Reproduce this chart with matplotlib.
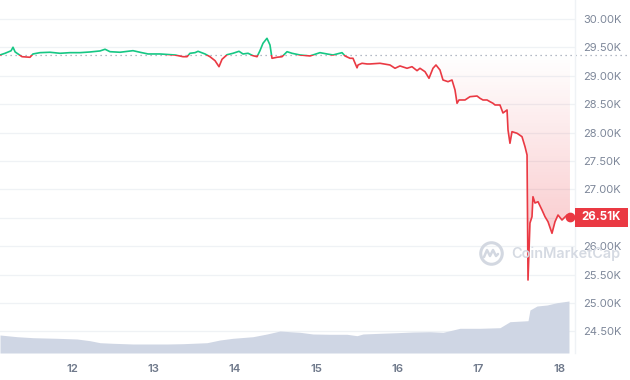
import matplotlib
matplotlib.use("Agg")
import matplotlib.pyplot as plt
import matplotlib.patches as mpatches
import matplotlib.transforms as mtrans
from matplotlib.lines import Line2D
import numpy as np

plt.rcParams['font.family'] = ['Inter', 'DejaVu Sans']

# ---- data (day of month, BTC price in USD) ----
price_day = [11.114, 11.176, 11.250, 11.274, 11.300, 11.336, 11.385, 11.483, 11.520, 11.606,
             11.729, 11.852, 11.975, 12.098, 12.221, 12.344, 12.406, 12.467, 12.590, 12.750,
             12.836, 12.935, 13.082, 13.267, 13.365, 13.415, 13.451, 13.513, 13.550, 13.636,
             13.697, 13.759, 13.808, 13.845, 13.907, 13.980, 14.054, 14.103, 14.165, 14.226,
             14.276, 14.312, 14.349, 14.398, 14.435, 14.460, 14.522, 14.583, 14.645, 14.706,
             14.804, 14.927, 15.050, 15.137, 15.210, 15.321, 15.358, 15.419, 15.456, 15.506,
             15.518, 15.567, 15.629, 15.665, 15.788, 15.911, 15.973, 16.034, 16.121, 16.182,
             16.244, 16.280, 16.342, 16.391, 16.440, 16.477, 16.526, 16.563, 16.625, 16.674,
             16.711, 16.736, 16.760, 16.834, 16.895, 16.982, 17.018, 17.055, 17.105, 17.141,
             17.178, 17.203, 17.264, 17.301, 17.351, 17.363, 17.387, 17.412, 17.474, 17.535,
             17.572, 17.597, 17.609, 17.633, 17.658, 17.670, 17.695, 17.732, 17.781, 17.818,
             17.855, 17.904, 17.941, 17.978, 18.027, 18.089, 18.125]
price_usd = [29366, 29396, 29440, 29502, 29420, 29384, 29336, 29326, 29384, 29407,
             29414, 29396, 29407, 29407, 29419, 29437, 29467, 29424, 29414, 29442,
             29414, 29384, 29384, 29366, 29336, 29336, 29396, 29407, 29431, 29384,
             29336, 29266, 29160, 29290, 29371, 29396, 29431, 29384, 29396, 29354,
             29336, 29442, 29572, 29660, 29542, 29308, 29326, 29336, 29424, 29396,
             29366, 29349, 29407, 29384, 29366, 29407, 29349, 29308, 29308, 29140,
             29190, 29220, 29208, 29208, 29220, 29190, 29132, 29173, 29132, 29160,
             29090, 29132, 29072, 28956, 29132, 29190, 29102, 28926, 28896, 28926,
             28750, 28516, 28574, 28574, 28632, 28644, 28604, 28574, 28574, 28544,
             28516, 28486, 28486, 28345, 28398, 28046, 27812, 28016, 27988, 27928,
             27752, 27606, 25405, 26408, 26519, 26871, 26760, 26783, 26637, 26519,
             26431, 26227, 26431, 26549, 26461, 26549, 26510]

volume_day = [11.114, 11.323, 11.520, 11.815, 12.061, 12.221, 12.344, 12.504, 12.750, 13.169,
              13.365, 13.661, 13.820, 13.980, 14.226, 14.398, 14.558, 14.681, 14.804, 14.964,
              15.173, 15.382, 15.506, 15.579, 15.788, 15.998, 16.194, 16.403, 16.563, 16.649,
              16.772, 17.018, 17.264, 17.387, 17.609, 17.633, 17.720, 17.843, 17.966, 18.113]
volume_bn = [9.0, 8.15, 7.65, 7.35, 7.0, 6.15, 5.15, 4.85, 4.5, 4.5,
             4.65, 5.15, 6.5, 7.35, 8.15, 9.5, 11.0, 10.65, 10.35, 9.5,
             9.35, 9.35, 8.65, 9.5, 9.85, 10.15, 10.5, 10.65, 10.35, 11.15,
             12.35, 12.35, 12.65, 15.65, 16.15, 21.5, 23.5, 24.0, 25.15, 26.0]

reference_price = 29366
y_ticks = [24500, 25000, 25500, 26000, 26500, 27000, 27500, 28000, 28500, 29000, 29500, 30000]
y_tick_labels = ['24.50K', '25.00K', '25.50K', '26.00K', '', '27.00K', '27.50K', '28.00K',
                 '28.50K', '29.00K', '29.50K', '30.00K']
x_ticks = [12, 13, 14, 15, 16, 17, 18]
x_tick_labels = ['12', '13', '14', '15', '16', '17', '18']
current_label = '26.51K'

GREEN = '#16c784'
RED = '#ea3943'
GRID = '#eff2f5'
LABEL = '#7d8799'

W, H = 630, 380
fig = plt.figure(figsize=(W / 100, H / 100), dpi=100)
fig.patch.set_facecolor('white')

ax_rect = [0, 27 / H, 575 / W, 353 / H]
axv = fig.add_axes(ax_rect)
ax = fig.add_axes(ax_rect, sharex=axv)
ax.patch.set_visible(False)

t = np.array(price_day)
p = np.array(price_usd)

xmin, xmax = 11.114, 18.187
ymin, ymax = 24120, 30334
ax.set_xlim(xmin, xmax)
ax.set_ylim(ymin, ymax)

# volume (separate scale)
axv.fill_between(volume_day, volume_bn, 0, color='#cfd6e4', lw=0, zorder=3)
axv.set_ylim(0, 176.5)
axv.set_yticks([])
axv.tick_params(axis='x', bottom=False, labelbottom=False)
for s in axv.spines.values():
    s.set_visible(False)

# grid
ax.set_yticks(y_ticks)
ax.set_yticklabels(y_tick_labels)
ax.set_xticks(x_ticks)
ax.set_xticklabels(x_tick_labels)
for yv in y_ticks:
    axv.axhline((yv - ymin) / (ymax - ymin) * 176.5, color=GRID, lw=0.9, zorder=1)

ax.yaxis.tick_right()
ax.tick_params(axis='y', length=0, pad=6, labelsize=8, labelcolor=LABEL)
ax.tick_params(axis='x', length=0, pad=8, labelsize=8.2, labelcolor='#6f798b')
for lab in ax.get_xticklabels():
    lab.set_fontweight('semibold')
for name, s in ax.spines.items():
    s.set_visible(name == 'right')
ax.spines['right'].set_color(GRID)
ax.spines['right'].set_linewidth(1)

# reference dotted line (extends into label area)
ax.axhline(reference_price, xmin=0, xmax=W / 575, color='#9aa3b3', lw=0.9,
           ls=(0, (1, 3)), clip_on=False, zorder=2)

# gradient fill between line and reference (below)
fill = ax.fill_between(t, p, reference_price, facecolor='none', edgecolor='none')
grad_y = np.linspace(ymin, reference_price, 200)
alpha = np.clip((reference_price - grad_y) / 2700 * 0.22, 0, 0.3)
rgba = np.zeros((200, 1, 4))
rgba[..., 0], rgba[..., 1], rgba[..., 2] = 0.918, 0.224, 0.263
rgba[:, 0, 3] = alpha
im = ax.imshow(rgba, extent=[t[0], t[-1], ymin, reference_price], origin='lower',
               aspect='auto', zorder=2, interpolation='bilinear')
im.set_clip_path(fill.get_paths()[0], ax.transData)

# price line: green above reference, red below
above = mpatches.Rectangle((xmin, reference_price), xmax - xmin, ymax - reference_price,
                           transform=ax.transData)
below = mpatches.Rectangle((xmin, ymin), xmax - xmin, reference_price - ymin,
                           transform=ax.transData)
lg, = ax.plot(t, p, color=GREEN, lw=1.2, zorder=4, solid_joinstyle='round')
lg.set_clip_path(above)
lr, = ax.plot(t, p, color=RED, lw=1.2, zorder=4, solid_joinstyle='round')
lr.set_clip_path(below)

# current price marker and label box
ax.plot(t[-1], p[-1], 'o', ms=6, color=RED, zorder=5, clip_on=False)
box_h = 9.5 * (ymax - ymin) / 353
trans = mtrans.blended_transform_factory(ax.transAxes, ax.transData)
ax.add_patch(mpatches.Rectangle((1.0, p[-1] - box_h), 53 / 575, 2 * box_h, transform=trans,
                                facecolor=RED, edgecolor='none', clip_on=False, zorder=6))
ax.text(1.0 + 26.5 / 575, p[-1], current_label, transform=trans, ha='center', va='center',
        color='white', fontsize=8.3, fontweight='bold', zorder=7, clip_on=False)

# watermark
fig.text(511 / W, 1 - 254 / H, 'CoinMarketCap', fontsize=10.4, fontweight='semibold',
         color='#d3d8e1', ha='left', va='center', alpha=0.95)
fig.add_artist(Line2D([491 / W], [1 - 253 / H], marker='o', ms=15.5, mfc='none',
                      mec='#d3d8e1', mew=2.2, transform=fig.transFigure))
fig.add_artist(Line2D(np.array([484, 487, 490, 493, 496, 498]) / W,
                      1 - np.array([257, 250, 256, 250, 256, 254]) / H,
                      color='#d3d8e1', lw=1.8, transform=fig.transFigure,
                      solid_joinstyle='round', solid_capstyle='round'))

fig.savefig('out.png', dpi=100, facecolor='white')
